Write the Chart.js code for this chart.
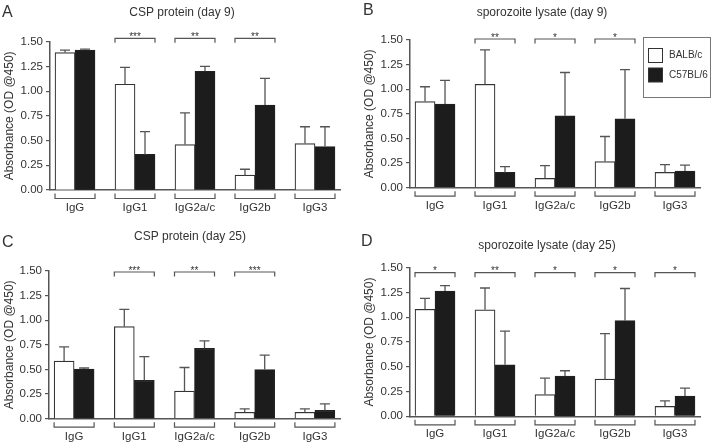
<!DOCTYPE html>
<html>
<head>
<meta charset="utf-8">
<script src="https://cdn.jsdelivr.net/npm/chart.js@4.4.1/dist/chart.umd.min.js"></script>
<style>
    html, body { margin: 0; padding: 0; background: #fff; }
    #wrap { position: relative; width: 720px; height: 444px; }
    canvas { position: absolute; }
</style>
</head>
<body>
<div id="wrap">
    <canvas id="chartA" width="360" height="222" style="left:0;top:0"></canvas>
    <canvas id="chartB" width="360" height="222" style="left:360px;top:0"></canvas>
    <canvas id="chartC" width="360" height="222" style="left:0;top:222px"></canvas>
    <canvas id="chartD" width="360" height="222" style="left:360px;top:222px"></canvas>
</div>
<script>
// Shared labels
const categories = ['IgG', 'IgG1', 'IgG2a/c', 'IgG2b', 'IgG3'];
const seriesNames = ['BALB/c', 'C57BL/6'];
const yTickValues = [0, 0.25, 0.5, 0.75, 1.0, 1.25, 1.5];

// A: CSP protein (day 9)
const balbA = [1.39, 1.07, 0.46, 0.15, 0.47];
const balbAErr = [0.025, 0.17, 0.32, 0.06, 0.17];
const c57A = [1.415, 0.36, 1.20, 0.86, 0.44];
const c57AErr = [0.01, 0.23, 0.05, 0.27, 0.20];
const sigA = ['', '***', '**', '**', ''];

// B: sporozoite lysate (day 9)
const balbB = [0.875, 1.05, 0.095, 0.265, 0.155];
const balbBErr = [0.15, 0.35, 0.13, 0.255, 0.08];
const c57B = [0.85, 0.155, 0.73, 0.70, 0.17];
const c57BErr = [0.24, 0.06, 0.44, 0.50, 0.06];
const sigB = ['', '**', '*', '*', ''];

// C: CSP protein (day 25)
const balbC = [0.585, 0.935, 0.28, 0.065, 0.065];
const balbCErr = [0.145, 0.175, 0.24, 0.035, 0.035];
const c57C = [0.505, 0.39, 0.715, 0.50, 0.085];
const c57CErr = [0.01, 0.24, 0.075, 0.145, 0.065];
const sigC = ['', '***', '**', '***', ''];

// D: sporozoite lysate (day 25)
const balbD = [1.08, 1.075, 0.22, 0.375, 0.10];
const balbDErr = [0.11, 0.22, 0.165, 0.46, 0.055];
const c57D = [1.265, 0.52, 0.405, 0.965, 0.205];
const c57DErr = [0.055, 0.34, 0.055, 0.325, 0.08];
const sigD = ['*', '**', '*', '*', '*'];

const FONT = "'Liberation Sans', Arial, sans-serif";
const TEXT = '#333';
const AXIS = '#555';

// Draws error bars, brackets, stars, title, panel letter and legend
const extrasPlugin = {
    id: 'extras',
    afterDatasetsDraw(chart, args, p) {
        const ctx = chart.ctx;
        const y = chart.scales.y;
        ctx.save();
        ctx.strokeStyle = AXIS;
        ctx.lineWidth = 1.3;
        chart.data.datasets.forEach((ds, di) => {
            chart.getDatasetMeta(di).data.forEach((bar, i) => {
                const top = y.getPixelForValue(ds.data[i].y + ds.errors[i]);
                ctx.beginPath();
                ctx.moveTo(bar.x, bar.y);
                ctx.lineTo(bar.x, top);
                ctx.moveTo(bar.x - 5, top);
                ctx.lineTo(bar.x + 5, top);
                ctx.stroke();
            });
        });
        ctx.restore();
    },
    afterDraw(chart, args, p) {
        const ctx = chart.ctx;
        const area = chart.chartArea;
        const m0 = chart.getDatasetMeta(0).data;
        const m1 = chart.getDatasetMeta(1).data;
        ctx.save();
        ctx.strokeStyle = AXIS;
        ctx.lineWidth = 1.2;
        ctx.fillStyle = TEXT;

        categories.forEach((c, i) => {
            const left = m0[i].x - m0[i].width / 2;
            const right = m1[i].x + m1[i].width / 2;
            // bracket under the axis
            const by = area.bottom + 8.5;
            ctx.beginPath();
            ctx.moveTo(left, area.bottom + 3.5);
            ctx.lineTo(left, by);
            ctx.lineTo(right, by);
            ctx.lineTo(right, area.bottom + 3.5);
            ctx.stroke();
            // significance bracket
            const s = p.sig[i];
            if (s) {
                const sy = area.top + p.sigOffset;
                ctx.beginPath();
                ctx.moveTo(left, sy + 4.5);
                ctx.lineTo(left, sy);
                ctx.lineTo(right, sy);
                ctx.lineTo(right, sy + 4.5);
                ctx.stroke();
                ctx.font = '10px ' + FONT;
                ctx.textAlign = 'center';
                ctx.textBaseline = 'alphabetic';
                ctx.fillText(s, (left + right) / 2, sy + 1.5);
            }
        });

        // title and panel letter
        ctx.textBaseline = 'middle';
        ctx.textAlign = 'center';
        ctx.font = '12px ' + FONT;
        ctx.fillText(p.title, p.titleX, p.titleY);
        ctx.textAlign = 'left';
        ctx.font = '16px ' + FONT;
        ctx.fillText(p.letter, p.letterX, p.letterY);

        if (p.legend) {
            const lx = 283, ly = 37;
            ctx.strokeStyle = '#777';
            ctx.lineWidth = 1;
            ctx.strokeRect(lx + 0.5, ly + 0.5, 67, 60);
            ctx.font = '10px ' + FONT;
            chart.data.datasets.forEach((ds, di) => {
                const sy = ly + 11 + di * 19.5;
                ctx.fillStyle = ds.backgroundColor;
                ctx.fillRect(lx + 5.5, sy + 0.5, 14, 14);
                ctx.strokeStyle = '#333';
                ctx.strokeRect(lx + 5.5, sy + 0.5, 14, 14);
                ctx.fillStyle = TEXT;
                ctx.fillText(ds.label, lx + 26, sy + 7.5);
            });
        }
        ctx.restore();
    }
};

function makeChart(id, balb, balbErr, c57, c57Err, p) {
    const ctx = document.getElementById(id).getContext('2d');
    return new Chart(ctx, {
        type: 'bar',
        data: {
            datasets: [{
                label: seriesNames[0],
                data: balb.map((v, i) => ({ x: i, y: v })),
                errors: balbErr,
                backgroundColor: '#ffffff',
                borderColor: '#333',
                borderWidth: 1.2,
                barThickness: 20
            }, {
                label: seriesNames[1],
                data: c57.map((v, i) => ({ x: i, y: v })),
                errors: c57Err,
                backgroundColor: '#1c1c1c',
                borderColor: '#222',
                borderWidth: 1.2,
                barThickness: 20
            }]
        },
        options: {
            responsive: false,
            animation: false,
            layout: { padding: { top: p.top, right: 20, bottom: 0, left: 0 } },
            plugins: {
                legend: { display: false },
                tooltip: { enabled: false },
                extras: p
            },
            scales: {
                x: {
                    type: 'linear',
                    offset: false,
                    min: -0.417,
                    max: 4.417,
                    afterBuildTicks: s => { s.ticks = categories.map((_, i) => ({ value: i })); },
                    afterFit: s => { s.height = 222 - p.bottom; },
                    ticks: {
                        callback: v => categories[v],
                        font: { family: FONT, size: 11.5 },
                        color: TEXT,
                        padding: 11,
                        maxRotation: 0,
                        autoSkip: false
                    },
                    grid: { display: false, drawTicks: false },
                    border: { color: AXIS, width: 1.5 }
                },
                y: {
                    min: 0,
                    max: 1.5,
                    afterBuildTicks: s => { s.ticks = yTickValues.map(v => ({ value: v })); },
                    afterFit: s => { s.width = p.left; },
                    ticks: {
                        callback: v => v.toFixed(2),
                        font: { family: FONT, size: 11.5 },
                        color: TEXT,
                        padding: 3
                    },
                    grid: { drawOnChartArea: false, tickLength: 4, color: AXIS, lineWidth: 1.2 },
                    border: { color: AXIS, width: 1.5 },
                    title: {
                        display: true,
                        text: 'Absorbance (OD @450)',
                        font: { family: FONT, size: 12 },
                        color: TEXT,
                        padding: { top: 2, bottom: 0 }
                    }
                }
            }
        },
        plugins: [extrasPlugin]
    });
}

makeChart('chartA', balbA, balbAErr, c57A, c57AErr, {
    title: 'CSP protein (day 9)', letter: 'A', sig: sigA,
    left: 50, top: 41.7, bottom: 190, sigOffset: -3.4,
    titleX: 182, titleY: 13, letterX: 2, letterY: 13, legend: false
});
makeChart('chartB', balbB, balbBErr, c57B, c57BErr, {
    title: 'sporozoite lysate (day 9)', letter: 'B', sig: sigB,
    left: 50, top: 40, bottom: 187.7, sigOffset: -1,
    titleX: 182, titleY: 13, letterX: 3, letterY: 11, legend: true
});
makeChart('chartC', balbC, balbCErr, c57C, c57CErr, {
    title: 'CSP protein (day 25)', letter: 'C', sig: sigC,
    left: 49, top: 49, bottom: 196.7, sigOffset: 1,
    titleX: 190, titleY: 15, letterX: 2, letterY: 21, legend: false
});
makeChart('chartD', balbD, balbDErr, c57D, c57DErr, {
    title: 'sporozoite lysate (day 25)', letter: 'D', sig: sigD,
    left: 50, top: 45.7, bottom: 194.3, sigOffset: 5,
    titleX: 187, titleY: 24, letterX: 1, letterY: 20, legend: false
});
</script>
</body>
</html>
